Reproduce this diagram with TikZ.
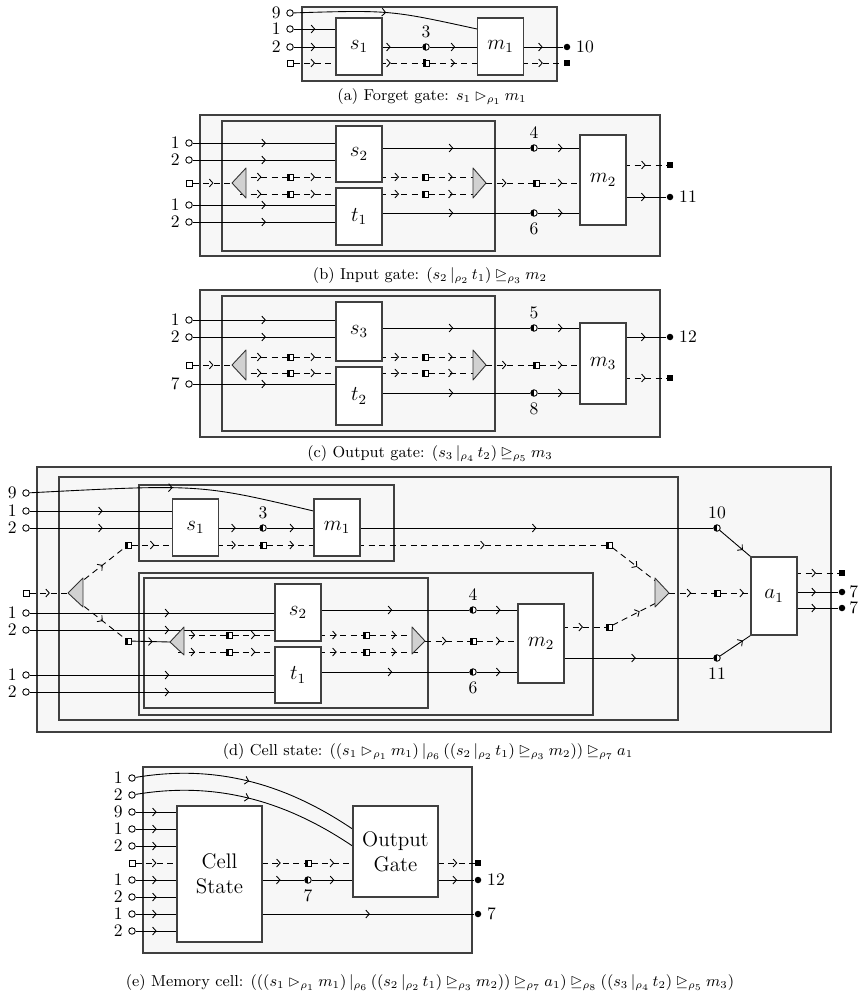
\documentclass[tikz,border=0pt]{standalone}
\usepackage{amsmath}
\usepackage{amssymb}
\usepackage{tikz}
\usetikzlibrary{arrows.meta,decorations.markings,positioning,calc}
\pgfdeclarelayer{back}
\pgfdeclarelayer{mid}
\pgfsetlayers{back,mid,main}

\begin{document}
\begin{tikzpicture}[
    x=0.02cm, y=-0.02cm,
    frame/.style={draw=black!75, fill=black!3, line width=0.6pt},
    gate/.style={rectangle, draw=black!75, fill=white, line width=0.6pt, inner sep=0, minimum width=0.92cm, font=\large},
    wire/.style={line width=0.5pt},
    dwire/.style={wire, dash pattern=on 3.5pt off 2.5pt},
    ar/.style={postaction={decorate}, decoration={markings, mark=at position #1 with {\arrow{Straight Barb[length=2pt,width=4.5pt]}}}},
    lbl/.style={inner sep=1pt, label distance=2pt},
    port/.style={circle, draw, fill=white, inner sep=0, minimum size=1.3mm, line width=0.5pt},
    sport/.style={port, rectangle, minimum size=1.2mm},
    hc/.style={port, path picture={\fill[black] ([xshift=-1mm,yshift=-1mm]path picture bounding box.center) rectangle ([yshift=1mm]path picture bounding box.center);}},
    hs/.style={hc, rectangle, minimum size=1.2mm},
    dot/.style={circle, fill, inner sep=0, minimum size=1.3mm},
    sdot/.style={dot, rectangle, minimum size=1.2mm},
    tri/.style={draw=black!80, fill=black!18, line width=0.5pt, line join=round},
    captxt/.style={font=\small}
]
    \useasboundingbox (0,0) rectangle (868,997);

    % (a) Forget gate
    \begin{pgfonlayer}{back}
        \draw[frame] (302,7) rectangle (557,81);
    \end{pgfonlayer}
    \node[port, label={[lbl]left:9}] (a9) at (290,13) {};
    \node[port, label={[lbl]left:1}] (a1) at (290,29) {};
    \node[port, label={[lbl]left:2}] (a2) at (290,47) {};
    \node[sport] (aq) at (290,63) {};
    \node[gate, minimum height=1.14cm] (s1) at (359,46.5) {$s_1$};
    \node[gate, minimum height=1.14cm] (m1) at (500.5,46.5) {$m_1$};
    \node[hc, label={[lbl]above:3}] (a3) at (426,47) {};
    \node[hs] (ah) at (426,63) {};
    \node[dot, label={[lbl]right:10}] (a10) at (567,47) {};
    \node[sdot] (aqo) at (567,63) {};
    \node[captxt] (capa) at (432,97) {(a) Forget gate: $s_1 \rhd_{\rho_1} m_1$};
    \begin{pgfonlayer}{mid}
        \draw[wire, ar=.5] (a9) .. controls (390,10) .. (m1.west |- a1);
        \draw[wire, ar=.33] (a1) -- (a1 -| s1);
        \draw[wire, ar=.33] (a2) -- (a2 -| s1);
        \draw[dwire, ar=.33] (aq) -- (aq -| s1);
        \draw[wire, ar=.5] (s1 |- a3) -- (a3);
        \draw[wire, ar=.36] (a3) -- (m1 |- a3);
        \draw[dwire, ar=.5] (s1 |- ah) -- (ah);
        \draw[dwire, ar=.36] (ah) -- (m1 |- ah);
        \draw[wire, ar=.67] (m1 |- a10) -- (a10);
        \draw[dwire, ar=.67] (m1 |- aqo) -- (aqo);
    \end{pgfonlayer}

    % (b) Input gate
    \begin{pgfonlayer}{back}
        \draw[frame] (200,115) rectangle (660,256);
        \draw[frame] (222,121) rectangle (495,251);
    \end{pgfonlayer}
    \node[port, label={[lbl]left:1}] (b1) at (189,143) {};
    \node[port, label={[lbl]left:2}] (b2) at (189,160) {};
    \node[sport] (bq) at (189,183) {};
    \node[port, label={[lbl]left:1}] (b3) at (189,205) {};
    \node[port, label={[lbl]left:2}] (b4) at (189,222) {};
    \node[gate, minimum height=1.12cm] (s2) at (359,154) {$s_2$};
    \node[gate, minimum height=1.14cm] (t1) at (359,216.5) {$t_1$};
    \node[gate, minimum height=1.8cm] (m2) at (603,180) {$m_2$};
    \coordinate (bl) at (232,183);
    \coordinate (blu) at (240,177);
    \coordinate (bld) at (240,194);
    \coordinate (bru) at (480,177);
    \coordinate (brd) at (480,194);
    \coordinate (br) at (486,183);
    \draw[tri] (bl) -- (246,168) -- (246,198) -- cycle;
    \draw[tri] (br) -- (473,168) -- (473,198) -- cycle;
    \node[hs] (bh1) at (290,177) {};
    \node[hs] (bh2) at (290,194) {};
    \node[hs] (bh3) at (425,177) {};
    \node[hs] (bh4) at (425,194) {};
    \node[hs] (bh5) at (536,183) {};
    \node[hc, label={[lbl]above:4}] (b4c) at (534,148) {};
    \node[hc, label={[lbl]below:6}] (b6c) at (534,213) {};
    \node[sdot] (bqo) at (670,165) {};
    \node[dot, label={[lbl]right:11}] (b11) at (670,197) {};
    \node[captxt] (capb) at (430,276) {(b) Input gate: $(s_2 \,|_{\rho_2}\, t_1) \unrhd_{\rho_3} m_2$};
    \begin{pgfonlayer}{mid}
        \foreach \p in {b1,b2} \draw[wire, ar=.44] (\p) -- (\p -| s2);
        \foreach \p in {b3,b4} \draw[wire, ar=.44] (\p) -- (\p -| t1);
        \draw[dwire, ar=.53] (bq) -- (bl);
        \draw[dwire, ar=.46] (blu) -- (bh1);
        \draw[dwire, ar=.33] (bh1) -- (s2 |- bh1);
        \draw[dwire, ar=.46] (bld) -- (bh2);
        \draw[dwire, ar=.33] (bh2) -- (t1 |- bh2);
        \draw[dwire, ar=.64] (s2 |- bh3) -- (bh3);
        \draw[dwire, ar=.47] (bh3) -- (bru);
        \draw[dwire, ar=.64] (t1 |- bh4) -- (bh4);
        \draw[dwire, ar=.47] (bh4) -- (brd);
        \draw[dwire, ar=.44] (br) -- (bh5);
        \draw[dwire, ar=.36] (bh5) -- (m2 |- bh5);
        \draw[wire, ar=.55] (s2 |- b4c) -- (b4c);
        \draw[wire, ar=.38] (b4c) -- (m2 |- b4c);
        \draw[wire, ar=.55] (t1 |- b6c) -- (b6c);
        \draw[wire, ar=.38] (b6c) -- (m2 |- b6c);
        \draw[dwire, ar=.67] (m2 |- bqo) -- (bqo);
        \draw[wire, ar=.67] (m2 |- b11) -- (b11);
    \end{pgfonlayer}

    % (c) Output gate
    \begin{pgfonlayer}{back}
        \draw[frame] (200,290) rectangle (660,437);
        \draw[frame] (222,296) rectangle (495,431);
    \end{pgfonlayer}
    \node[port, label={[lbl]left:1}] (c1) at (189,320) {};
    \node[port, label={[lbl]left:2}] (c2) at (189,337) {};
    \node[sport] (cq) at (189,365) {};
    \node[port, label={[lbl]left:7}] (c7) at (189,384) {};
    \node[gate, minimum height=1.18cm] (s3) at (359,331.5) {$s_3$};
    \node[gate, minimum height=1.16cm] (t2) at (359,396) {$t_2$};
    \node[gate, minimum height=1.62cm] (m3) at (603,363.5) {$m_3$};
    \coordinate (cl) at (232,365);
    \coordinate (clu) at (240,357);
    \coordinate (cld) at (240,373);
    \coordinate (cru) at (480,357);
    \coordinate (crd) at (480,373);
    \coordinate (cr) at (486,365);
    \draw[tri] (cl) -- (246,350) -- (246,380) -- cycle;
    \draw[tri] (cr) -- (473,350) -- (473,380) -- cycle;
    \node[hs] (ch1) at (290,357) {};
    \node[hs] (ch2) at (290,373) {};
    \node[hs] (ch3) at (425,357) {};
    \node[hs] (ch4) at (425,373) {};
    \node[hs] (ch5) at (536,365) {};
    \node[hc, label={[lbl]above:5}] (c5c) at (534,328) {};
    \node[hc, label={[lbl]below:8}] (c8c) at (534,393) {};
    \node[dot, label={[lbl]right:12}] (c12) at (670,337) {};
    \node[sdot] (cqo) at (670,378) {};
    \node[captxt] (capc) at (430,454) {(c) Output gate: $(s_3 \,|_{\rho_4}\, t_2) \unrhd_{\rho_5} m_3$};
    \begin{pgfonlayer}{mid}
        \foreach \p in {c1,c2} \draw[wire, ar=.44] (\p) -- (\p -| s3);
        \draw[wire, ar=.44] (c7) -- (c7 -| t2);
        \draw[dwire, ar=.53] (cq) -- (cl);
        \draw[dwire, ar=.46] (clu) -- (ch1);
        \draw[dwire, ar=.33] (ch1) -- (s3 |- ch1);
        \draw[dwire, ar=.46] (cld) -- (ch2);
        \draw[dwire, ar=.33] (ch2) -- (t2 |- ch2);
        \draw[dwire, ar=.64] (s3 |- ch3) -- (ch3);
        \draw[dwire, ar=.47] (ch3) -- (cru);
        \draw[dwire, ar=.64] (t2 |- ch4) -- (ch4);
        \draw[dwire, ar=.47] (ch4) -- (crd);
        \draw[dwire, ar=.44] (cr) -- (ch5);
        \draw[dwire, ar=.36] (ch5) -- (m3 |- ch5);
        \draw[wire, ar=.55] (s3 |- c5c) -- (c5c);
        \draw[wire, ar=.38] (c5c) -- (m3 |- c5c);
        \draw[wire, ar=.55] (t2 |- c8c) -- (c8c);
        \draw[wire, ar=.38] (c8c) -- (m3 |- c8c);
        \draw[wire, ar=.67] (m3 |- c12) -- (c12);
        \draw[dwire, ar=.67] (m3 |- cqo) -- (cqo);
    \end{pgfonlayer}

    % (d) Cell state
    \begin{pgfonlayer}{back}
        \draw[frame] (37,467) rectangle (831,732);
        \draw[frame] (59,477) rectangle (678,720);
        \draw[frame] (139,485) rectangle (394,561);
        \draw[frame] (139,573) rectangle (593,715);
        \draw[frame] (144,578) rectangle (428,708);
    \end{pgfonlayer}
    \node[port, label={[lbl]left:9}] (d9) at (26,493) {};
    \node[port, label={[lbl]left:1}] (d1) at (26,511) {};
    \node[port, label={[lbl]left:2}] (d2) at (26,528) {};
    \node[sport] (dq) at (26,593) {};
    \node[port, label={[lbl]left:1}] (d3) at (26,613) {};
    \node[port, label={[lbl]left:2}] (d4) at (26,630) {};
    \node[port, label={[lbl]left:1}] (d5) at (26,675) {};
    \node[port, label={[lbl]left:2}] (d6) at (26,692) {};
    \node[gate, minimum height=1.14cm] (ds1) at (195.5,527.5) {$s_1$};
    \node[gate, minimum height=1.14cm] (dm1) at (337,527.5) {$m_1$};
    \node[gate, minimum height=1.14cm] (ds2) at (298,612.5) {$s_2$};
    \node[gate, minimum height=1.12cm] (dt1) at (298,675) {$t_1$};
    \node[gate, minimum height=1.58cm] (dm2) at (541,643.5) {$m_2$};
    \node[gate, minimum height=1.56cm] (da1) at (774,596) {$a_1$};
    \coordinate (dl) at (68,593);
    \coordinate (dlu) at (76,586);
    \coordinate (dld) at (76,600);
    \coordinate (el) at (170,642);
    \coordinate (elu) at (178,635);
    \coordinate (eld) at (178,652);
    \coordinate (eru) at (418,635);
    \coordinate (erd) at (418,652);
    \coordinate (er) at (425,641);
    \coordinate (dru) at (662,586);
    \coordinate (drd) at (662,600);
    \coordinate (dr) at (669,593);
    \draw[tri] (dl) -- (83,578) -- (83,607) -- cycle;
    \draw[tri] (el) -- (184,627) -- (184,655) -- cycle;
    \draw[tri] (er) -- (412,627) -- (412,654) -- cycle;
    \draw[tri] (dr) -- (655,578) -- (655,607) -- cycle;
    \node[hs] (dhA) at (128,545) {};
    \node[hs] (dhB) at (128,641) {};
    \node[hc, label={[lbl]above:3}] (d3c) at (263,528) {};
    \node[hs] (dh3) at (263,545) {};
    \node[hs] (dh1) at (229,635) {};
    \node[hs] (dh2) at (229,652) {};
    \node[hs] (dh4) at (366,635) {};
    \node[hs] (dh5) at (366,652) {};
    \node[hs] (dh6) at (473,641) {};
    \node[hc, label={[lbl]above:4}] (d4c) at (473,610) {};
    \node[hc, label={[lbl]below:6}] (d6c) at (473,672) {};
    \node[hs] (dhC) at (609,545) {};
    \node[hs] (dhD) at (609,627) {};
    \node[hs] (dhE) at (717,593) {};
    \node[hc, label={[lbl]above:10}] (d10c) at (717,528) {};
    \node[hc, label={[lbl]below:11}] (d11c) at (717,658) {};
    \node[sdot] (dqo) at (842,573) {};
    \node[dot, label={[lbl, inner sep=0pt]right:7}] (d7a) at (842,592) {};
    \node[dot, label={[lbl, inner sep=0pt]right:7}] (d7b) at (842,608) {};
    \node[captxt] (capd) at (428,752) {(d) Cell state: $((s_1 \rhd_{\rho_1} m_1) \,|_{\rho_6}\, ((s_2 \,|_{\rho_2}\, t_1) \unrhd_{\rho_3} m_2)) \unrhd_{\rho_7} a_1$};
    \begin{pgfonlayer}{mid}
        \draw[wire, ar=.5] (d9) .. controls (200,484) .. (dm1.west |- d1);
        \foreach \p in {d1,d2} \draw[wire, ar=.44] (\p) -- (\p -| ds1);
        \foreach \p in {d3,d4} \draw[wire, ar=.52] (\p) -- (\p -| ds2);
        \foreach \p in {d5,d6} \draw[wire, ar=.52] (\p) -- (\p -| dt1);
        \draw[dwire, ar=.53] (dq) -- (dl);
        \draw[dwire, ar=.55] (dlu) -- (dhA);
        \draw[dwire, ar=.55] (dld) -- (dhB);
        \draw[dwire, ar=.36] (dhA) -- (dhA -| ds1);
        \draw[wire, ar=.55] (dhB) -- (el);
        \draw[wire, ar=.63] (ds1 |- d3c) -- (d3c);
        \draw[wire, ar=.39] (d3c) -- (dm1 |- d3c);
        \draw[dwire, ar=.63] (ds1 |- dh3) -- (dh3);
        \draw[dwire, ar=.39] (dh3) -- (dm1 |- dh3);
        \draw[wire, ar=.53] (dm1 |- d10c) -- (d10c);
        \draw[dwire, ar=.55] (dm1 |- dhC) -- (dhC);
        \draw[dwire, ar=.36] (elu) -- (dh1);
        \draw[dwire, ar=.35] (dh1) -- (ds2 |- dh1);
        \draw[dwire, ar=.36] (eld) -- (dh2);
        \draw[dwire, ar=.35] (dh2) -- (dt1 |- dh2);
        \draw[dwire, ar=.6] (ds2 |- dh4) -- (dh4);
        \draw[dwire, ar=.55] (dh4) -- (eru);
        \draw[dwire, ar=.6] (dt1 |- dh5) -- (dh5);
        \draw[dwire, ar=.55] (dh5) -- (erd);
        \draw[dwire, ar=.48] (er) -- (dh6);
        \draw[dwire, ar=.37] (dh6) -- (dm2 |- dh6);
        \draw[wire, ar=.55] (ds2 |- d4c) -- (d4c);
        \draw[wire, ar=.37] (d4c) -- (dm2 |- d4c);
        \draw[wire, ar=.55] (dt1 |- d6c) -- (d6c);
        \draw[wire, ar=.37] (d6c) -- (dm2 |- d6c);
        \draw[dwire, ar=.65] (dm2 |- dhD) -- (dhD);
        \draw[wire, ar=.55] (dm2 |- d11c) -- (d11c);
        \draw[dwire, ar=.5] (dhC) -- (dru);
        \draw[dwire, ar=.55] (dhD) -- (drd);
        \draw[dwire, ar=.5] (dr) -- (dhE);
        \draw[dwire, ar=.44] (dhE) -- (da1 |- dhE);
        \draw[wire, ar=.75] (d10c) -- (da1.north west);
        \draw[wire, ar=.75] (d11c) -- (da1.south west);
        \draw[dwire, ar=.65] (da1 |- dqo) -- (dqo);
        \draw[wire, ar=.65] (da1 |- d7a) -- (d7a);
        \draw[wire, ar=.65] (da1 |- d7b) -- (d7b);
    \end{pgfonlayer}

    % (e) Memory cell
    \begin{pgfonlayer}{back}
        \draw[frame] (143,767) rectangle (472,953);
    \end{pgfonlayer}
    \node[port, label={[lbl]left:1}] (e1) at (132,778) {};
    \node[port, label={[lbl]left:2}] (e2) at (132,795) {};
    \node[port, label={[lbl]left:9}] (e3) at (132,812) {};
    \node[port, label={[lbl]left:1}] (e4) at (132,829) {};
    \node[port, label={[lbl]left:2}] (e5) at (132,846) {};
    \node[sport] (eq) at (132,863) {};
    \node[port, label={[lbl]left:1}] (e6) at (132,880) {};
    \node[port, label={[lbl]left:2}] (e7) at (132,897) {};
    \node[port, label={[lbl]left:1}] (e8) at (132,914) {};
    \node[port, label={[lbl]left:2}] (e9) at (132,931) {};
    \node[gate, minimum width=1.7cm, minimum height=2.72cm, align=center] (cell) at (219.5,874) {Cell\\State};
    \node[gate, minimum width=1.7cm, minimum height=1.82cm, align=center] (og) at (395.5,851.5) {Output\\Gate};
    \node[hs] (eh) at (308,863) {};
    \node[hc, label={[lbl]below:7}] (e7c) at (308,880) {};
    \node[sdot] (eqo) at (478,863) {};
    \node[dot, label={[lbl]right:12}] (e12) at (478,880) {};
    \node[dot, label={[lbl]right:7}] (e7o) at (478,914) {};
    \node[captxt] (cape) at (430,983) {(e) Memory cell: $(((s_1 \rhd_{\rho_1} m_1) \,|_{\rho_6}\, ((s_2 \,|_{\rho_2}\, t_1) \unrhd_{\rho_3} m_2)) \unrhd_{\rho_7} a_1) \unrhd_{\rho_8} ((s_3 \,|_{\rho_4}\, t_2) \unrhd_{\rho_5} m_3)$};
    \begin{pgfonlayer}{mid}
        \draw[wire, ar=.5] (e1) .. controls (210,765) and (280,780) .. (og.west |- e4);
        \draw[wire, ar=.5] (e2) .. controls (210,782) and (280,797) .. (og.west |- e5);
        \foreach \p in {e3,e4,e5,e6,e7,e8,e9} \draw[wire, ar=.25] (\p) -- (\p -| cell);
        \draw[dwire, ar=.25] (eq) -- (eq -| cell);
        \draw[dwire, ar=.72] (cell |- eh) -- (eh);
        \draw[dwire, ar=.27] (eh) -- (og |- eh);
        \draw[wire, ar=.72] (cell |- e7c) -- (e7c);
        \draw[wire, ar=.27] (e7c) -- (og |- e7c);
        \draw[wire, ar=.59] (cell |- e7o) -- (e7o);
        \draw[dwire, ar=.78] (og |- eqo) -- (eqo);
        \draw[wire, ar=.78] (og |- e12) -- (e12);
    \end{pgfonlayer}
\end{tikzpicture}
\end{document}
